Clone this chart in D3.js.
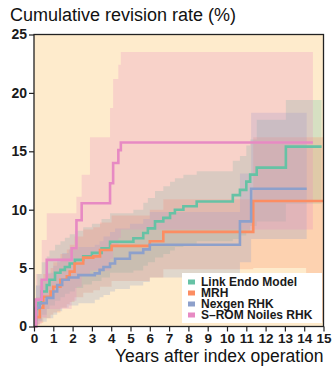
<!DOCTYPE html>
<html>
<head>
<meta charset="utf-8">
<script src="https://cdn.jsdelivr.net/npm/d3@7"></script>
<style>
  body { margin: 0; background: #fff; }
  text { font-family: "Liberation Sans", Arial, sans-serif; fill: #1a1a1a; }
</style>
</head>
<body>
<script>
// --- data (years, cumulative revision %) ---
var seriesNames = ["Link Endo Model", "MRH", "Nexgen RHK", "S\u2013ROM Noiles RHK"];
var seriesColors = ["#66c2a5", "#fc8d62", "#8da0cb", "#e78ac3"];

var linkT   = [0, 0.1, 0.17, 0.4, 0.66, 0.8, 1.09, 1.37, 1.6, 1.85, 2.12, 2.55, 3.0, 3.5, 3.94, 5.15, 5.66, 5.9, 6.27, 6.7, 7.05, 7.3, 7.74, 8.43, 10.3, 10.67, 11.0, 11.2, 11.54, 13.05, 14.9];
var linkEst = [0, 1.5, 2.0, 3.0, 3.55, 4.0, 4.6, 4.85, 5.1, 5.4, 5.7, 6.0, 6.3, 6.7, 7.25, 7.55, 8.0, 8.4, 9.0, 9.3, 9.7, 10.0, 10.3, 10.7, 11.25, 11.7, 12.4, 13.0, 13.6, 15.4, 15.4];
var linkLo  = [0, 0.3, 0.5, 1.0, 1.5, 1.8, 2.2, 2.5, 2.8, 3.0, 3.3, 3.6, 3.9, 4.2, 4.6, 4.8, 5.2, 5.5, 5.9, 6.2, 6.5, 6.8, 7.0, 7.3, 7.5, 7.8, 8.2, 8.6, 9.0, 10.5, 10.5];
var linkHi  = [0, 3.5, 4.5, 5.5, 6.0, 6.5, 7.0, 7.3, 7.6, 7.9, 8.2, 8.5, 8.8, 9.2, 9.7, 10.0, 10.6, 11.0, 11.6, 12.0, 12.4, 12.7, 13.0, 13.3, 14.2, 14.6, 15.5, 16.0, 17.7, 19.4, 19.4];

var mrhT   = [0, 0.1, 0.3, 0.48, 0.86, 1.0, 1.37, 1.7, 1.85, 2.1, 2.55, 3.07, 3.42, 4.02, 6.0, 6.7, 11.36, 14.1, 15.0];
var mrhEst = [0, 0.8, 1.6, 2.55, 3.0, 3.4, 4.0, 4.3, 4.7, 5.4, 5.9, 6.0, 6.55, 6.9, 7.3, 8.1, 10.75, 10.75, 10.75];
var mrhLo  = [0, 0.1, 0.3, 0.7, 1.0, 1.2, 1.6, 1.9, 2.1, 2.5, 2.9, 3.1, 3.4, 3.9, 4.2, 4.9, 5.0, 0.4, 0.4];
var mrhHi  = [0, 2.5, 3.5, 4.5, 5.0, 5.5, 6.2, 6.6, 7.0, 7.7, 8.3, 8.5, 8.9, 9.5, 10.0, 10.9, 16.2, 16.2, 16.2];

var nexT   = [0, 0.1, 0.3, 0.66, 1.0, 1.2, 1.46, 1.8, 2.3, 3.15, 3.4, 3.6, 3.94, 4.2, 4.97, 5.66, 6.0, 10.67, 11.25, 14.13];
var nexEst = [0, 1.6, 2.0, 2.45, 3.0, 3.55, 4.0, 4.2, 4.4, 4.55, 4.85, 5.1, 5.4, 5.8, 6.3, 6.6, 7.0, 9.0, 11.8, 11.8];
var nexLo  = [0, 0.2, 0.4, 0.7, 1.0, 1.3, 1.6, 1.8, 2.0, 2.3, 2.5, 2.7, 3.0, 3.2, 3.5, 3.8, 4.2, 5.5, 7.5, 7.5];
var nexHi  = [0, 3.5, 4.0, 4.6, 5.2, 5.8, 6.3, 6.6, 6.8, 7.0, 7.3, 7.7, 8.1, 8.4, 8.8, 9.2, 9.8, 13.1, 18.3, 18.3];

var sromT   = [0, 0.1, 0.4, 0.66, 1.95, 2.2, 2.47, 2.9, 3.94, 4.1, 4.37, 4.5, 14.45];
var sromEst = [0, 2.3, 4.0, 5.7, 6.7, 9.1, 10.55, 10.55, 12.26, 14.0, 15.1, 15.75, 15.75];
var sromLo  = [0, 0.2, 0.8, 1.5, 2.2, 3.4, 4.4, 4.8, 5.8, 6.8, 7.6, 8.3, 8.3];
var sromHi  = [0, 4.5, 7.4, 9.7, 9.7, 11.1, 13.0, 16.2, 18.7, 21.2, 22.4, 23.5, 23.5];

var xTicks = d3.range(0, 16);
var yTicks = [0, 5, 10, 15, 20, 25];

window.onload = function() {
    var w = 334, h = 368;
    var svg = d3.select("body").append("svg")
        .attr("width", w)
        .attr("height", h);

    var x = d3.scaleLinear().domain([0, 15]).range([34, 323.5]);
    var y = d3.scaleLinear().domain([0, 25]).range([326.5, 34.5]);

    // panel background
    svg.append("rect")
        .attr("x", x(0)).attr("y", y(25))
        .attr("width", x(15) - x(0)).attr("height", y(0) - y(25))
        .style("fill", "#feebcc");

    var series = [
        { t: linkT, est: linkEst, lo: linkLo, hi: linkHi },
        { t: mrhT, est: mrhEst, lo: mrhLo, hi: mrhHi },
        { t: nexT, est: nexEst, lo: nexLo, hi: nexHi },
        { t: sromT, est: sromEst, lo: sromLo, hi: sromHi }
    ].map(function(s, k) {
        return {
            name: seriesNames[k],
            color: seriesColors[k],
            pts: s.t.map(function(t, i) { return { t: t, est: s.est[i], lo: s.lo[i], hi: s.hi[i] }; })
        };
    });

    var band = d3.area()
        .curve(d3.curveStepAfter)
        .x(d => x(d.t))
        .y0(d => y(d.lo))
        .y1(d => y(d.hi));

    var line = d3.line()
        .curve(d3.curveStepAfter)
        .x(d => x(d.t))
        .y(d => y(d.est));

    svg.selectAll(".band")
        .data(series)
        .enter().append("path")
        .attr("class", "band")
        .attr("d", d => band(d.pts))
        .style("fill", d => d.color)
        .style("fill-opacity", 0.26);

    svg.selectAll(".km")
        .data(series)
        .enter().append("path")
        .attr("class", "km")
        .attr("d", d => line(d.pts))
        .style("fill", "none")
        .style("stroke", d => d.color)
        .style("stroke-width", 2.6);

    // frame
    svg.append("rect")
        .attr("x", x(0)).attr("y", y(25))
        .attr("width", x(15) - x(0)).attr("height", y(0) - y(25))
        .style("fill", "none")
        .style("stroke", "#222")
        .style("stroke-width", 1.3);

    // axes
    var xAxis = svg.append("g")
        .attr("transform", "translate(0," + y(0) + ")")
        .call(d3.axisBottom(x).tickValues(xTicks).tickSize(5).tickPadding(2));
    xAxis.select(".domain").remove();
    xAxis.selectAll("line").style("stroke", "#222").style("stroke-width", 1.2);
    xAxis.selectAll("text").style("font-size", "13.5px").style("font-weight", "bold")
        .style("font-family", "'Liberation Sans', Arial, sans-serif").style("fill", "#1a1a1a");

    var yAxis = svg.append("g")
        .attr("transform", "translate(" + x(0) + ",0)")
        .call(d3.axisLeft(y).tickValues(yTicks).tickSize(5).tickPadding(2));
    yAxis.select(".domain").remove();
    yAxis.selectAll("line").style("stroke", "#222").style("stroke-width", 1.2);
    yAxis.selectAll("text").style("font-size", "14px").style("font-weight", "bold")
        .style("font-family", "'Liberation Sans', Arial, sans-serif").style("fill", "#1a1a1a");

    // titles
    svg.append("text")
        .attr("x", 10).attr("y", 21)
        .style("font-size", "18px")
        .style("fill", "#111")
        .text("Cumulative revision rate (%)");

    svg.append("text")
        .attr("x", x(15)).attr("y", 362)
        .attr("text-anchor", "end")
        .style("font-size", "17.5px")
        .style("fill", "#111")
        .text("Years after index operation");

    // legend
    var lg = svg.append("g").attr("transform", "translate(182,273)");
    lg.append("rect")
        .attr("width", 140).attr("height", 50)
        .style("fill", "#fff");
    var rows = lg.selectAll(".row")
        .data(series)
        .enter().append("g")
        .attr("class", "row")
        .attr("transform", (d, i) => "translate(0," + (9 + i * 11) + ")");
    rows.append("rect")
        .attr("x", 6).attr("y", -2.5)
        .attr("width", 7).attr("height", 5)
        .style("fill", d => d.color);
    rows.append("text")
        .attr("x", 19).attr("dy", "0.35em")
        .style("font-size", "12px")
        .style("font-weight", "bold")
        .text(d => d.name);
};
</script>
</body>
</html>
